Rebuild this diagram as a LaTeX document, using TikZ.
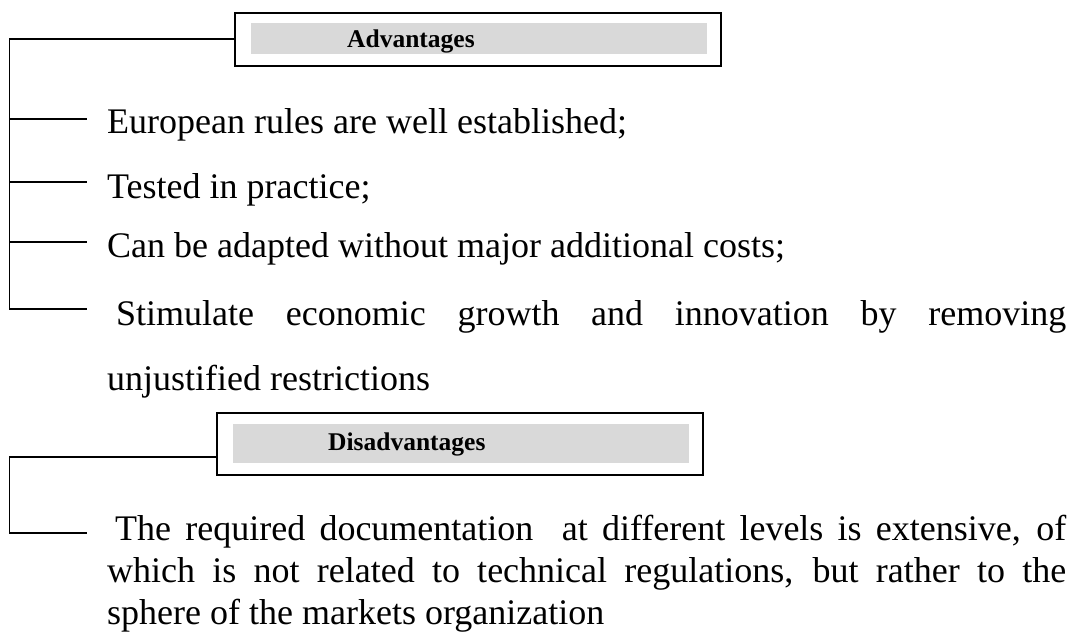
\documentclass[tikz,border=0pt]{standalone}
\usepackage{fontspec}
\setmainfont{Liberation Serif}
\definecolor{boxgray}{HTML}{D9D9D9}
\tikzset{
  conn/.style={line width=1.5pt, line cap=rect},
  outerbox/.style={draw, line width=2pt, minimum width=486pt, minimum height=53pt, inner sep=0pt},
  graybox/.style={fill=boxgray, minimum width=456pt, minimum height=31.6pt, inner sep=0pt},
  headtxt/.style={anchor=base west, inner sep=0pt, font=\fontsize{25.5}{30}\selectfont\bfseries},
  itemtxt/.style={anchor=base west, inner sep=0pt, font=\fontsize{36}{42}\selectfont},
  paratxt/.style={anchor=base west, inner sep=0pt, text width=959pt, align=justify},
}
\begin{document}
\begin{tikzpicture}[x=1pt,y=-1pt]
\useasboundingbox (0,0) rectangle (1070,633);
% Advantages
\node[outerbox] (adv) at (478,39.2) {};
\node[graybox] (advg) at (479,38.5) {};
\node[headtxt] (advt) at (347,47) {Advantages};
% Disadvantages
\node[outerbox, minimum height=62pt] (dis) at (460,444) {};
\node[graybox, minimum height=39pt] (disg) at (461,443.5) {};
\node[headtxt] (dist) at (328,450.5) {Disadvantages};
% items
\node[itemtxt] (i1) at (107,133) {European rules are well established;};
\node[itemtxt] (i2) at (107,198) {Tested in practice;};
\node[itemtxt] (i3) at (107,257) {Can be adapted without major additional costs;};
\node[paratxt, font=\fontsize{36}{65}\selectfont] (i4) at (107,325) {\hyphenpenalty=10000\tolerance=10000\hspace*{9pt}Stimulate economic growth and innovation by removing\linebreak unjustified restrictions\par};
\node[paratxt, font=\fontsize{36}{42}\selectfont] (d1) at (107,540) {\hyphenpenalty=10000\tolerance=10000\hspace*{8pt}The required documentation~ at different levels is extensive, of\linebreak which is not related to technical regulations, but rather to the\linebreak sphere of the markets organization\par};
% connectors advantages
\coordinate (v0) at (9.3,39.2);
\coordinate (v1) at (9.3,119); \coordinate (e1) at (86,119);
\coordinate (v2) at (9.3,182); \coordinate (e2) at (86,182);
\coordinate (v3) at (9.3,242); \coordinate (e3) at (86,242);
\coordinate (v4) at (9.3,309); \coordinate (e4) at (86,309);
\draw[conn] (adv.west) -- (v0) -- (v4) -- (e4);
\draw[conn] (v1) -- (e1);
\draw[conn] (v2) -- (e2);
\draw[conn] (v3) -- (e3);
% connectors disadvantages
\coordinate (w0) at (9.3,457);
\coordinate (w1) at (9.3,533); \coordinate (f1) at (86,533);
\draw[conn] (w0 -| dis.west) -- (w0) -- (w1) -- (f1);
\end{tikzpicture}
\end{document}
